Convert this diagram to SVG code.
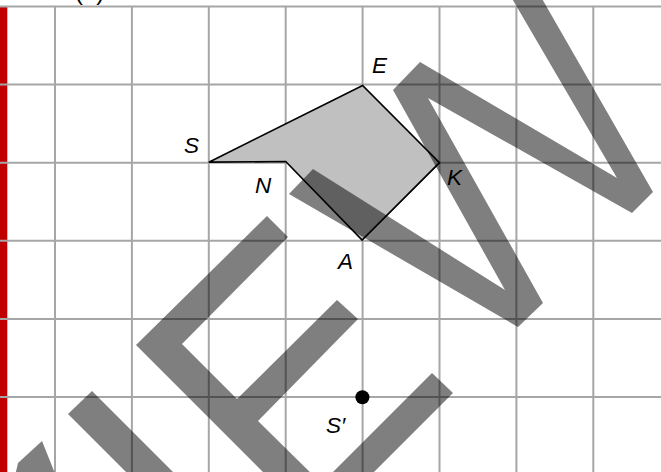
<svg xmlns="http://www.w3.org/2000/svg" width="661" height="472" viewBox="0 0 661 472">
<style>
.grid line{stroke:#a6a6a6;stroke-width:2}
.lbl{font-family:"Liberation Sans",Arial,sans-serif;font-size:22.5px;font-style:italic;fill:#000}
.wm{fill:#000;fill-opacity:0.5}
</style>
<rect x="0" y="0" width="661" height="472" fill="#fff"/>
<rect id="margin" x="0" y="6.5" width="7.3" height="466" fill="#c00000"/>
<text x="75" y="0" font-family="Liberation Sans, Arial, sans-serif" font-size="24" fill="#000">(a)</text>
<g id="grid" class="grid">
<line x1="0" y1="6.5" x2="661" y2="6.5"/>
<line x1="0" y1="84.6" x2="661" y2="84.6"/>
<line x1="0" y1="162.7" x2="661" y2="162.7"/>
<line x1="0" y1="240.8" x2="661" y2="240.8"/>
<line x1="0" y1="318.9" x2="661" y2="318.9"/>
<line x1="0" y1="397" x2="661" y2="397"/>
<line x1="55" y1="6.5" x2="55" y2="472"/>
<line x1="131.9" y1="6.5" x2="131.9" y2="472"/>
<line x1="208.8" y1="6.5" x2="208.8" y2="472"/>
<line x1="285.7" y1="6.5" x2="285.7" y2="472"/>
<line x1="362.6" y1="6.5" x2="362.6" y2="472"/>
<line x1="439.5" y1="6.5" x2="439.5" y2="472"/>
<line x1="516.4" y1="6.5" x2="516.4" y2="472"/>
<line x1="593.3" y1="6.5" x2="593.3" y2="472"/>
</g>
<g id="figure">
<polygon points="208.8,162.2 362.6,85.5 439.5,162.7 362.1,240 285.7,161.5" fill="#c0c0c0" stroke="#000" stroke-width="1.7" stroke-linejoin="miter"/>
</g>
<g id="labels">
<text class="lbl" x="184" y="153">S</text>
<text class="lbl" x="372" y="73">E</text>
<text class="lbl" x="447" y="185">K</text>
<text class="lbl" x="338" y="269">A</text>
<text class="lbl" x="255" y="193">N</text>
<text class="lbl" x="326" y="433">S′</text>
</g>
<g id="point-S-prime">
<circle cx="362.4" cy="397.2" r="7" fill="#000"/>
</g>
<g id="watermark">
<polygon class="wm" points="507,-10 537,-10 653,192 632,213 428,98 543,303 518,327 289,194 313,169 505,290 393,90 420,62 617,178"/>
<polygon class="wm" points="267,216 288,237 182,344 237,399 337,300 358,319 258,421 321.5,483.5 432,373 453,393 346,500 291,500 136,345"/>
<polygon class="wm" points="92,391 68,414 130,476 177,476"/>
<polygon class="wm" points="18,463 42,441 56,476 15,476"/>
</g>
</svg>
